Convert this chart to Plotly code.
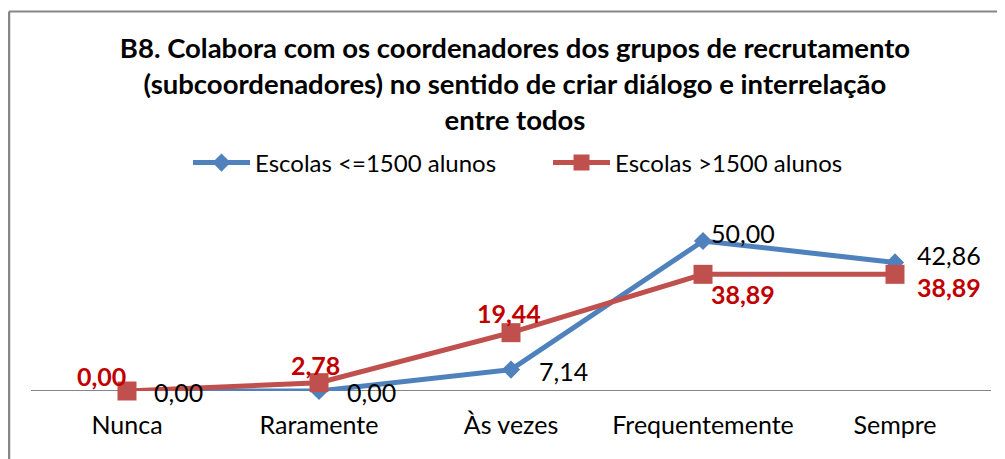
import plotly.graph_objects as go

categories = ["Nunca", "Raramente", "Às vezes", "Frequentemente", "Sempre"]
small_schools = [0.00, 0.00, 7.14, 50.00, 42.86]
large_schools = [0.00, 2.78, 19.44, 38.89, 38.89]
series_names = ["Escolas <=1500 alunos", "Escolas >1500 alunos"]
title_text = ("B8. Colabora com os coordenadores dos grupos de recrutamento<br>"
              "(subcoordenadores) no sentido de criar diálogo e interrelação<br>"
              "entre todos")

# label offsets (pixels) relative to each point: (xshift, yshift, xanchor)
small_label_pos = [(25, -1, "left"), (26, -1, "left"), (26, -1, "left"), (6, 8, "left"), (20, 7, "left")]
large_label_pos = [(1, 15, "right"), (-4, 18, "center"), (-2, 20, "center"), (6, -20, "left"), (20, -13, "left")]

def fmt(v):
    return f"{v:.2f}".replace(".", ",")

FONT = "Lato"
OFF = 8  # page body margin
W, H = 1005 - OFF, 459 - OFF
ML, MT = 31 - OFF, 211 - OFF
PW, PH = 960, 180
MR, MB = W - ML - PW, H - MT - PH

def px_x(sx):
    return (sx - OFF - ML) / PW

def px_y(sy):
    return (MT + PH - (sy - OFF)) / PH

BLUE, RED = "#4F81BD", "#C0504D"

fig = go.Figure()
fig.add_trace(go.Scatter(
    x=categories, y=small_schools, name=series_names[0],
    mode="lines+markers",
    line=dict(color=BLUE, width=5),
    marker=dict(symbol="diamond", size=14, color=BLUE),
    cliponaxis=False,
))
fig.add_trace(go.Scatter(
    x=categories, y=large_schools, name=series_names[1],
    mode="lines+markers",
    line=dict(color=RED, width=5),
    marker=dict(symbol="square", size=19, color=RED),
    cliponaxis=False,
))

annotations = []
for c, v, (dx, dy, xa) in zip(categories, small_schools, small_label_pos):
    annotations.append(dict(x=c, y=v, xref="x", yref="y", text=fmt(v), showarrow=False,
                            xanchor=xa, yanchor="middle", xshift=dx, yshift=dy,
                            font=dict(family=FONT, size=25, color="#000000")))
for c, v, (dx, dy, xa) in zip(categories, large_schools, large_label_pos):
    annotations.append(dict(x=c, y=v, xref="x", yref="y", text=fmt(v), showarrow=False,
                            xanchor=xa, yanchor="middle", xshift=dx, yshift=dy,
                            font=dict(family=FONT, size=25, color="#C00000", weight="bold")))

fig.update_layout(
    width=W, height=H,
    margin=dict(l=ML, r=MR, t=MT, b=MB, autoexpand=False),
    paper_bgcolor="white", plot_bgcolor="white",
    title=dict(text=title_text, x=(515 - OFF) / W, xanchor="center",
               y=1 - 50 / H, yanchor="top",
               font=dict(family=FONT, size=27.5, color="#000000", weight="bold")),
    legend=dict(orientation="h", x=px_x(188), xanchor="left",
                y=px_y(163), yanchor="middle",
                font=dict(family=FONT, size=24, color="#000000"),
                bgcolor="rgba(0,0,0,0)", itemwidth=57,
                entrywidth=288, entrywidthmode="pixels"),
    showlegend=True,
    annotations=annotations,
    xaxis=dict(range=[-0.5, 4.5], showgrid=False, zeroline=False, showline=False, ticks="",
               tickfont=dict(family=FONT, size=25, color="#000000"),
               ticklabelstandoff=17, fixedrange=True),
    yaxis=dict(range=[0, 60], visible=False, showgrid=False, zeroline=False, fixedrange=True),
    shapes=[
        dict(type="line", xref="paper", yref="y", x0=0, x1=1, y0=0, y1=0,
             line=dict(color="#868686", width=2), layer="below"),
        dict(type="line", xref="paper", yref="paper", x0=px_x(9), x1=px_x(1010),
             y0=px_y(11.5), y1=px_y(11.5), line=dict(color="#868686", width=2)),
        dict(type="line", xref="paper", yref="paper", x0=px_x(9), x1=px_x(9),
             y0=px_y(11.5), y1=px_y(470), line=dict(color="#868686", width=2.5)),
    ],
)

fig.write_html("out.html")
